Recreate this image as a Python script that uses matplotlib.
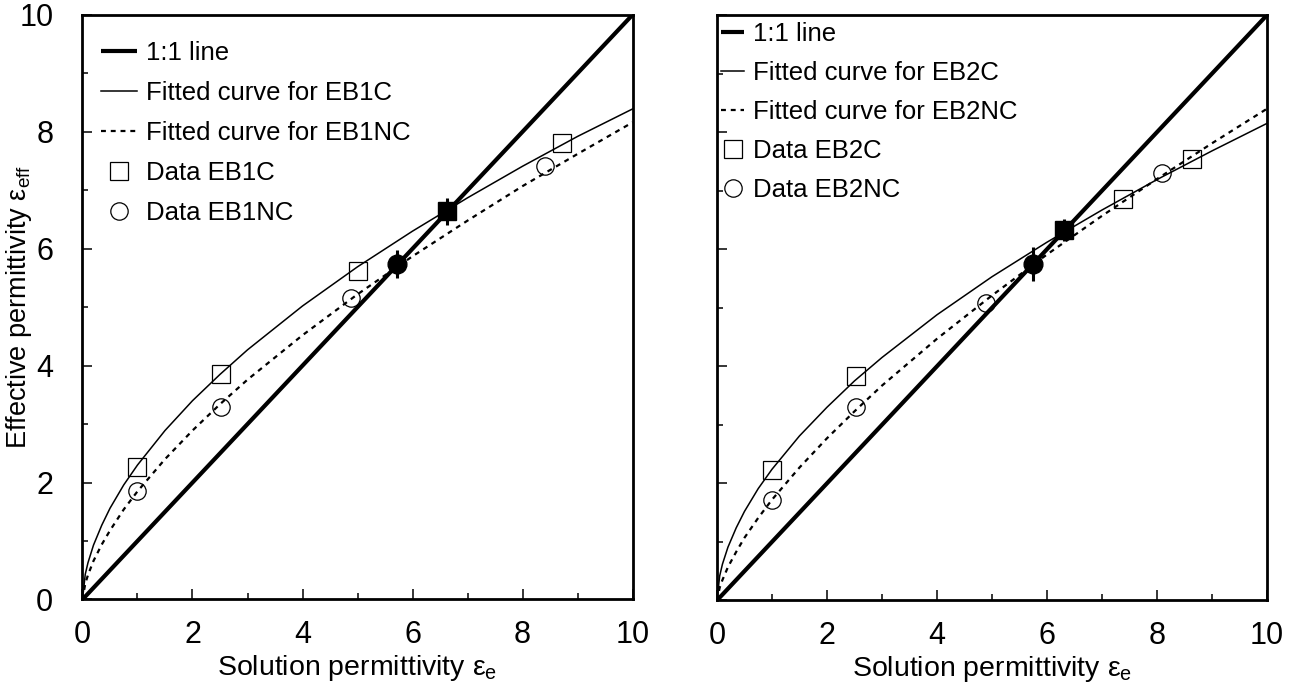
import matplotlib
matplotlib.use("Agg")
import matplotlib.pyplot as plt
from matplotlib.ticker import MultipleLocator

plt.rcParams['font.family'] = ['Liberation Sans', 'DejaVu Sans']
plt.rcParams['mathtext.fontset'] = 'custom'
plt.rcParams['mathtext.rm'] = 'Liberation Sans'
plt.rcParams['mathtext.default'] = 'regular'

# ---------------- data ----------------
one_to_one = [0, 10]

curve_x = [0, 0.05, 0.1, 0.2, 0.35, 0.5, 0.75, 1, 1.5, 2, 2.5, 3, 4, 5, 6, 7, 8, 9, 10]

# left panel (EB1)
fit_eb1c = [0, 0.43, 0.63, 0.93, 1.27, 1.56, 1.96, 2.30, 2.89, 3.40, 3.85, 4.27, 5.02, 5.69, 6.30, 6.87, 7.41, 7.92, 8.39]
fit_eb1nc = [0, 0.27, 0.42, 0.66, 0.94, 1.18, 1.54, 1.85, 2.40, 2.89, 3.34, 3.76, 4.52, 5.22, 5.87, 6.48, 7.07, 7.62, 8.16]
eb1c_x = [1.0, 2.52, 5.0, 8.72]
eb1c_y = [2.27, 3.85, 5.62, 7.81]
eb1nc_x = [1.0, 2.52, 4.88, 8.40]
eb1nc_y = [1.86, 3.30, 5.15, 7.41]
eb1c_fill = (6.63, 6.64, 0.23)     # x, y, error
eb1nc_fill = (5.71, 5.74, 0.24)

# right panel (EB2)
fit_eb2c = [0, 0.42, 0.62, 0.91, 1.24, 1.52, 1.91, 2.24, 2.81, 3.30, 3.75, 4.15, 4.88, 5.53, 6.12, 6.67, 7.19, 7.68, 8.15]
fit_eb2nc = [0, 0.22, 0.35, 0.57, 0.83, 1.07, 1.41, 1.72, 2.27, 2.77, 3.23, 3.67, 4.47, 5.21, 5.91, 6.57, 7.20, 7.81, 8.40]
eb2c_x = [1.0, 2.52, 7.39, 8.64]
eb2c_y = [2.23, 3.83, 6.86, 7.55]
eb2nc_x = [1.0, 2.52, 4.89, 8.10]
eb2nc_y = [1.72, 3.31, 5.09, 7.31]
eb2c_fill = (6.31, 6.33, 0.19)
eb2nc_fill = (5.75, 5.75, 0.29)

xticks = [0, 2, 4, 6, 8, 10]
yticks = [0, 2, 4, 6, 8, 10]

fig = plt.figure(figsize=(12.89, 6.87), dpi=100)
axL = fig.add_axes([0.064, 0.1274, 0.4267, 0.851])
axR = fig.add_axes([0.5562, 0.1260, 0.4267, 0.852])

ms = 12.5


def draw(ax, fitc, fitnc, cx, cy, ncx, ncy, cfill, ncfill, name, show_ylabels):
    ax.plot(one_to_one, one_to_one, color='black', lw=3.0, label='1:1 line', solid_capstyle='butt')
    ax.plot(curve_x, fitc, color='black', lw=1.1, label='Fitted curve for %sC' % name)
    ax.plot(curve_x, fitnc, color='black', lw=1.6, ls=(0, (2.2, 2.2)), label='Fitted curve for %sNC' % name)
    ax.plot(cx, cy, ls='none', marker='s', ms=ms, mfc='none', mec='black', mew=0.9, label='Data %sC' % name)
    ax.plot(ncx, ncy, ls='none', marker='o', ms=ms, mfc='none', mec='black', mew=0.9, label='Data %sNC' % name)
    ax.errorbar([cfill[0]], [cfill[1]], yerr=[cfill[2]], fmt='s', ms=ms, color='black', elinewidth=2.2, capsize=0)
    ax.errorbar([ncfill[0]], [ncfill[1]], yerr=[ncfill[2]], fmt='o', ms=ms + 1, color='black', elinewidth=2.2, capsize=0)
    ax.set_xlim(0, 10)
    ax.set_ylim(0, 10)
    ax.set_xticks(xticks)
    ax.set_yticks(yticks)
    ax.xaxis.set_minor_locator(MultipleLocator(1))
    ax.yaxis.set_minor_locator(MultipleLocator(1))
    ax.tick_params(which='both', direction='in', top=False, right=False, width=1.1, labelsize=22)
    ax.tick_params(which='major', length=7.5)
    ax.tick_params(which='minor', length=4.5)
    ax.tick_params(axis='x', which='major', pad=15)
    ax.tick_params(axis='y', which='major', pad=21)
    if not show_ylabels:
        ax.tick_params(axis='y', labelleft=False)
    for s in ax.spines.values():
        s.set_linewidth(2.0)
    ax.set_xlabel(r'Solution permittivity $ε_{e}$', fontsize=20.5, labelpad=2)


draw(axL, fit_eb1c, fit_eb1nc, eb1c_x, eb1c_y, eb1nc_x, eb1nc_y, eb1c_fill, eb1nc_fill, 'EB1', True)
draw(axR, fit_eb2c, fit_eb2nc, eb2c_x, eb2c_y, eb2nc_x, eb2nc_y, eb2c_fill, eb2nc_fill, 'EB2', False)
axL.set_ylabel(r'Effective permittivity $ε_{eff}$', fontsize=19.5)
axL.yaxis.set_label_coords(-0.088, 0.5)

legkw = dict(frameon=False, fontsize=18.5, handletextpad=0.35, borderpad=0, borderaxespad=0)
axL.legend(loc='upper left', bbox_to_anchor=(0.034, 0.956), handlelength=1.4, labelspacing=0.63, **legkw)
axR.legend(loc='upper left', bbox_to_anchor=(0.008, 0.988), handlelength=0.9, labelspacing=0.58, **legkw)

fig.savefig('out.png', dpi=100)
